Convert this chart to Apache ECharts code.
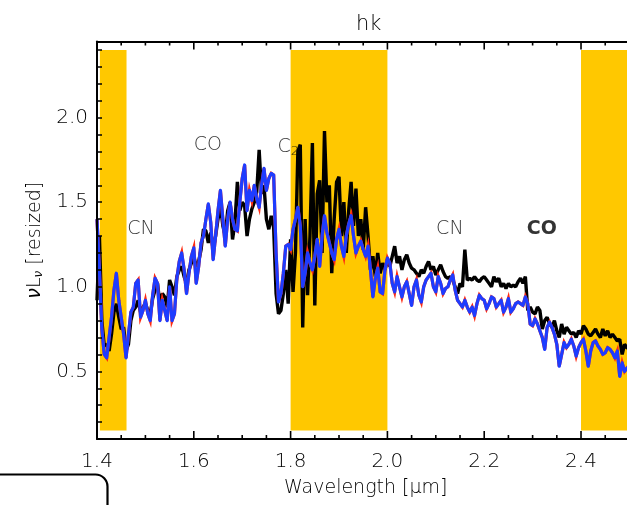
<!DOCTYPE html>
<html>
<head>
<meta charset="utf-8">
<script src="https://cdn.jsdelivr.net/npm/echarts@6/dist/echarts.min.js"></script>
<style>
  html, body { margin: 0; padding: 0; background: #fff; }
  #chart { width: 627px; height: 505px; }
</style>
</head>
<body>
<div id="chart"></div>
<script>
// Wavelength grid of the spectra (micron): regular sampling
const lambdaStart = 1.40;
const lambdaStep = 0.005;

// Observed spectrum (black), nu*L_nu rescaled
const observedFlux = [
  0.92, 1.30, 0.80, 0.65, 0.66, 0.62, 0.72, 0.85, 0.90, 0.82,
  0.75, 0.76, 0.62, 0.66, 0.80, 0.86, 0.88, 0.92, 0.85, 0.88,
  0.90, 0.86, 0.84, 0.93, 0.98, 1.02, 0.90, 0.96, 0.94, 0.88,
  1.04, 1.00, 0.95, 1.06, 1.10, 1.12, 1.06, 1.02, 1.10, 1.14,
  1.18, 1.12, 1.15, 1.22, 1.34, 1.33, 1.26, 1.32, 1.22, 1.30,
  1.40, 1.48, 1.36, 1.30, 1.45, 1.50, 1.28, 1.38, 1.62, 1.45,
  1.50, 1.48, 1.30, 1.40, 1.46, 1.50, 1.56, 1.81, 1.55, 1.60,
  1.40, 1.34, 1.42, 1.35, 0.96, 0.84, 0.86, 0.96, 1.10, 0.90,
  1.28, 0.97, 1.20, 1.80, 1.84, 0.76, 1.40, 0.95, 1.30, 1.85,
  0.89, 1.55, 1.63, 1.20, 1.92, 1.50, 1.60, 1.08, 1.40, 1.62,
  1.65, 1.30, 1.50, 1.20, 1.45, 1.62, 1.36, 1.58, 1.30, 1.40,
  1.22, 1.47, 1.30, 1.10, 1.18, 1.06, 1.20, 1.08, 1.14, 1.10,
  1.16, 1.12, 1.18, 1.24, 1.14, 1.18, 1.10, 1.16, 1.19, 1.14,
  1.11, 1.10, 1.08, 1.06, 1.10, 1.08, 1.12, 1.15, 1.10, 1.12,
  1.07, 1.10, 1.13, 1.09, 1.06, 1.05, 1.06, 1.04, 1.00, 0.96,
  1.02, 1.00, 1.22, 1.04, 1.05, 1.04, 1.06, 1.04, 1.03, 1.05,
  1.06, 1.04, 1.02, 1.00, 1.06, 1.03, 1.05, 1.00, 1.02, 0.99,
  1.02, 1.00, 1.01, 1.00, 1.03, 1.05, 1.02, 1.06, 0.86, 0.88,
  0.85, 0.84, 0.88, 0.86, 0.75, 0.80, 0.82, 0.78, 0.76, 0.80,
  0.74, 0.70, 0.78, 0.72, 0.76, 0.74, 0.72, 0.73, 0.70, 0.74,
  0.72, 0.77, 0.75, 0.72, 0.71, 0.73, 0.75, 0.72, 0.70, 0.75,
  0.71, 0.74, 0.70, 0.72, 0.70, 0.68, 0.69, 0.60, 0.66, 0.64,
  0.63
];

// Model spectrum (blue, drawn over its red twin)
const modelFlux = [
  1.40, 1.10, 0.75, 0.60, 0.58, 0.70, 0.82, 0.98, 1.08, 0.92,
  0.82, 0.72, 0.58, 0.72, 0.85, 0.88, 1.02, 1.04, 0.82, 0.86,
  0.92, 0.84, 0.80, 0.95, 1.05, 1.02, 0.80, 0.92, 0.86, 0.80,
  1.00, 0.80, 0.84, 1.05, 1.15, 1.20, 1.10, 0.96, 1.08, 1.18,
  1.23, 1.02, 1.12, 1.26, 1.30, 1.40, 1.49, 1.38, 1.16, 1.30,
  1.45, 1.57, 1.40, 1.24, 1.40, 1.50, 1.40, 1.34, 1.33, 1.50,
  1.64, 1.72, 1.45, 1.57, 1.51, 1.60, 1.52, 1.47, 1.60, 1.70,
  1.57, 1.64, 1.67, 1.66, 1.20, 0.91, 0.96, 1.08, 1.24, 1.25,
  1.22, 1.34, 1.40, 1.47, 1.36, 1.00, 1.08, 1.20, 1.14, 1.10,
  1.18, 1.28, 1.12, 1.30, 1.42, 1.32, 1.26, 1.20, 1.16, 1.28,
  1.34, 1.24, 1.18, 1.30, 1.37, 1.42, 1.30, 1.20, 1.24, 1.27,
  1.22, 1.18, 1.24, 1.10, 0.94, 1.05, 1.11, 0.97, 0.96, 1.10,
  1.17, 1.14, 1.02, 0.97, 1.06, 1.00, 0.94, 1.00, 1.03, 0.96,
  0.89, 1.00, 1.04, 0.95, 0.91, 1.00, 1.04, 1.06, 1.08, 1.00,
  0.97, 1.06, 1.02, 0.96, 0.99, 1.00, 1.04, 1.07, 0.98, 0.92,
  0.90, 0.88, 0.92, 0.88, 0.85, 0.88, 0.83, 0.90, 0.95, 0.93,
  0.92, 0.87, 0.90, 0.94, 0.93, 0.88, 0.90, 0.92, 0.85, 0.88,
  0.93, 0.85, 0.87, 0.90, 0.91, 0.90, 0.89, 0.94, 0.90, 0.78,
  0.77, 0.81, 0.78, 0.74, 0.70, 0.63, 0.76, 0.79, 0.76, 0.72,
  0.66, 0.53, 0.60, 0.67, 0.64, 0.66, 0.69, 0.65, 0.59, 0.64,
  0.67, 0.69, 0.62, 0.53, 0.62, 0.67, 0.68, 0.65, 0.63, 0.60,
  0.61, 0.64, 0.63, 0.61, 0.58, 0.62, 0.47, 0.55, 0.50, 0.52,
  0.50
];

// Shaded wavelength windows [from, to]
const bandStarts = [1.406, 1.80, 2.40];
const bandEnds   = [1.461, 2.00, 2.50];
const bandTop = 2.40;
const bandBottom = 0.15;

// Molecular feature labels
const featureNames = ['CN', 'CO', 'C2', 'CN', 'CO'];
const featureLambda = [1.491, 1.629, 1.795, 2.129, 2.319];
const featureLevel  = [1.343, 1.837, 1.826, 1.343, 1.343];

// Axis tick labels
const xTickLabels = ['1.4', '1.6', '1.8', '2.0', '2.2', '2.4'];
const yTickLabels = ['0.5', '1.0', '1.5', '2.0'];

// Axis ranges (the frame continues just past the right edge)
const X_MIN = 1.4, X_MAX = 2.495;
const Y_MIN = 0.1, Y_MAX = 2.45;

// x tick marks: major every 0.2 µm, minor every 0.05 µm
const xMajorTicks = [1.4, 1.6, 1.8, 2.0, 2.2, 2.4];
const xMinorTicks = [];
for (let k = 0; k <= 21; k++) xMinorTicks.push(+(1.4 + 0.05 * k).toFixed(2));

// tick lengths in y-data units (the y axis spans about 170 px per unit)
const MAJOR_LEN = 8 / 170;
const MINOR_LEN = 4 / 170;

const FONT = 'DejaVu Sans';
const THIN = 200;
const TEXT = '#000';

const toPairs = (vals) => vals.map((v, i) => [+(lambdaStart + i * lambdaStep).toFixed(4), v]);

const bandAreas = bandStarts.map((s, i) => [
  { coord: [s, bandTop] },
  { coord: [Math.min(bandEnds[i], X_MAX), bandBottom] }
]);

const featureData = featureNames.map((n, i) => {
  const d = { value: [featureLambda[i], featureLevel[i]], name: n };
  // the CO label at 2.32 micron is set heavier
  if (i === 4) d.label = { fontWeight: 'bold', color: '#000' };
  return d;
});

const isMajor = (t) => xMajorTicks.some((m) => Math.abs(m - t) < 1e-6);

// tick segments along the bottom and top frame, separated by gaps
const xTickPath = [];
xMinorTicks.forEach((t) => {
  const len = isMajor(t) ? MAJOR_LEN : MINOR_LEN;
  xTickPath.push([t, Y_MIN], [t, Y_MIN + len], [t, '-']);
  xTickPath.push([t, Y_MAX], [t, Y_MAX - len], [t, '-']);
});

const tickStyle = { color: '#000', width: 1.5 };
const axisLineStyle = { show: true, onZero: false, lineStyle: { color: '#000', width: 2 } };

const chart = echarts.init(document.getElementById('chart'), null, { renderer: 'canvas' });

chart.setOption({
  animation: false,
  backgroundColor: '#fff',
  title: [
    {
      text: 'hk',
      left: 351,
      top: 9,
      textStyle: { fontFamily: FONT, fontSize: 21, fontWeight: THIN, color: TEXT }
    },
    {
      text: 'Wavelength [μm]',
      left: 279,
      top: 474,
      textStyle: { fontFamily: FONT, fontSize: 19, fontWeight: THIN, color: TEXT }
    }
  ],
  grid: { left: 97, top: 41.5, right: 0, bottom: 66 },
  xAxis: [
    {
      type: 'value', position: 'bottom', min: X_MIN, max: X_MAX, interval: 0.2, z: 10,
      axisLine: axisLineStyle,
      axisTick: { show: false },
      splitLine: { show: false },
      axisLabel: {
        show: true, margin: 13, showMaxLabel: false,
        fontFamily: FONT, fontSize: 20, fontWeight: THIN, color: TEXT,
        formatter: (v) => {
          const k = Math.round((v - 1.4) / 0.2);
          return (Math.abs(v - (1.4 + 0.2 * k)) < 1e-6 && xTickLabels[k]) ? xTickLabels[k] : '';
        }
      }
    },
    {
      type: 'value', position: 'top', min: X_MIN, max: X_MAX, interval: 0.2, z: 10,
      axisLine: axisLineStyle,
      axisTick: { show: false },
      splitLine: { show: false },
      axisLabel: { show: false }
    }
  ],
  yAxis: [
    {
      type: 'value', min: Y_MIN, max: Y_MAX, interval: 0.1, z: 10,
      axisLine: axisLineStyle,
      axisTick: { show: true, inside: true, length: 5, lineStyle: tickStyle },
      splitLine: { show: false },
      axisLabel: {
        show: true, margin: 9, showMaxLabel: false,
        fontFamily: FONT, fontSize: 20, fontWeight: THIN, color: TEXT,
        formatter: (v) => {
          const s = v.toFixed(1);
          return yTickLabels.indexOf(s) >= 0 && Math.abs(v * 2 - Math.round(v * 2)) < 1e-6 ? s : '';
        }
      },
      name: '{g|ν}L{s|ν} [resized]',
      nameLocation: 'middle',
      nameGap: 50,
      nameTextStyle: {
        fontFamily: FONT, fontSize: 19, fontWeight: THIN, color: TEXT,
        rich: {
          g: { fontFamily: FONT, fontSize: 19, fontWeight: THIN, fontStyle: 'italic', color: TEXT },
          s: { fontFamily: FONT, fontSize: 12, fontWeight: THIN, fontStyle: 'italic', color: TEXT, padding: [9, 0, 0, 0] }
        }
      }
    }
  ],
  series: [
    {
      name: 'bands', type: 'line', data: [], silent: true,
      markArea: {
        silent: true,
        itemStyle: { color: '#FFC800', opacity: 1 },
        data: bandAreas
      },
      z: 1
    },
    {
      name: 'observed', type: 'line', data: toPairs(observedFlux),
      showSymbol: false, symbol: 'none',
      lineStyle: { color: '#000', width: 3.4, join: 'bevel' },
      z: 3
    },
    {
      name: 'model-red', type: 'line', data: toPairs(modelFlux),
      showSymbol: false, symbol: 'none',
      lineStyle: { color: '#FF2A10', width: 3.2, join: 'miter', miterLimit: 6 },
      z: 4
    },
    {
      name: 'model-blue', type: 'line', data: toPairs(modelFlux),
      showSymbol: false, symbol: 'none',
      lineStyle: { color: '#1E3CFF', width: 3.2, join: 'round' },
      z: 5
    },
    {
      name: 'features', type: 'scatter', data: featureData,
      symbolSize: 0, silent: true, z: 6,
      label: {
        show: true, position: 'inside',
        fontFamily: FONT, fontSize: 19, fontWeight: THIN, color: TEXT,
        formatter: (p) => p.name === 'C2' ? 'C{s|2}' : p.name,
        rich: { s: { fontFamily: FONT, fontSize: 13, fontWeight: THIN, color: TEXT, padding: [10, 0, 0, 0] } }
      }
    },
    {
      name: 'xticks', type: 'line', data: xTickPath,
      showSymbol: false, symbol: 'none', connectNulls: false, silent: true,
      clip: false,
      lineStyle: { color: '#000', width: 1.6, cap: 'butt' },
      z: 20
    }
  ],
  graphic: [
    {
      type: 'rect', left: -40, top: 472, silent: true,
      shape: { width: 145, height: 80, r: 12 },
      style: { fill: 'none', stroke: '#000', lineWidth: 2.2 }
    }
  ]
});
</script>
</body>
</html>
